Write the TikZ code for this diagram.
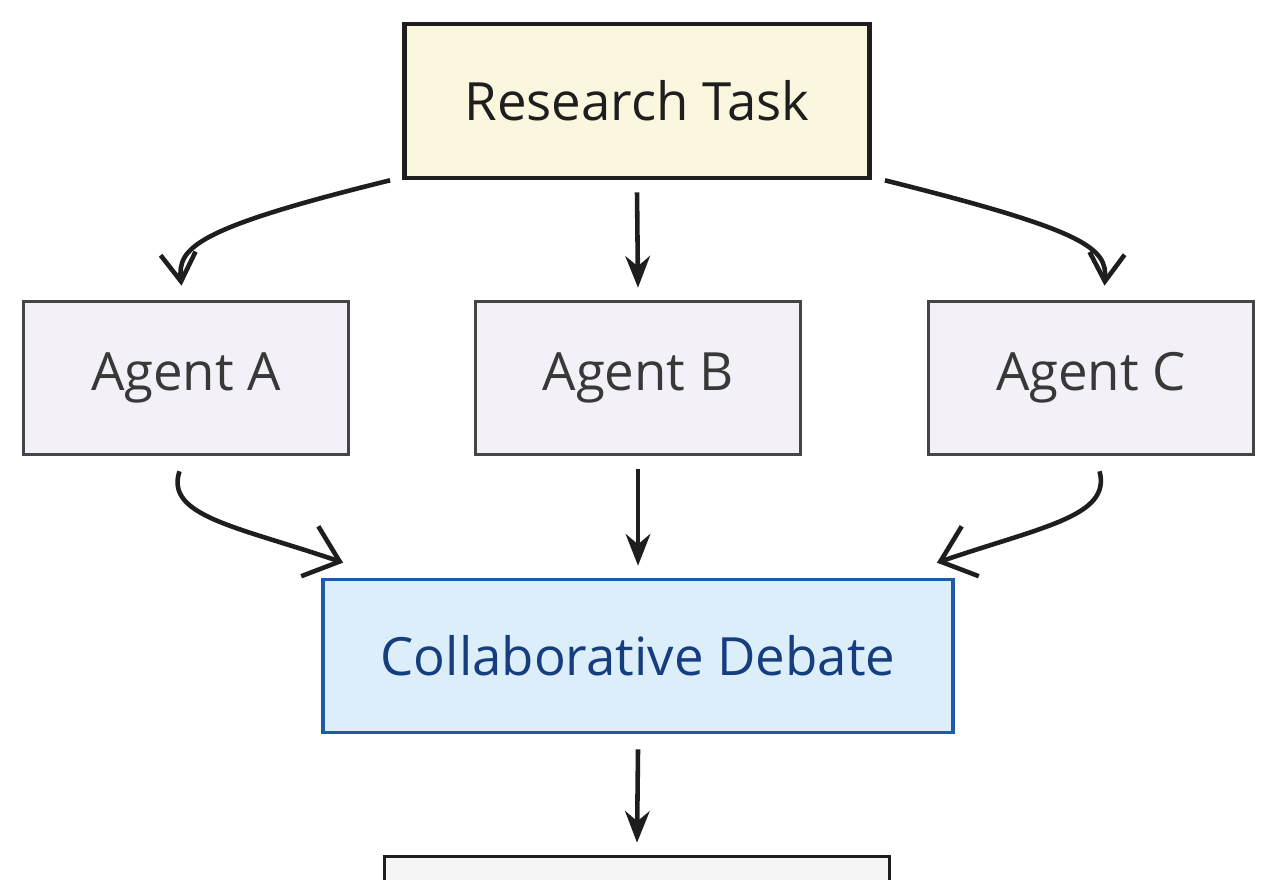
\documentclass[tikz,border=0pt]{standalone}
\usepackage{fontspec}
\setmainfont{Open Sans}
\usetikzlibrary{arrows.meta}
\definecolor{taskfill}{HTML}{FBF7DF}
\definecolor{agentfill}{HTML}{F3F1F7}
\definecolor{agentline}{HTML}{454545}
\definecolor{agenttext}{HTML}{383838}
\definecolor{debatefill}{HTML}{DDEEFB}
\definecolor{debateline}{HTML}{1F5AA6}
\definecolor{debatetext}{HTML}{163E7E}
\definecolor{resultfill}{HTML}{F5F5F5}
\definecolor{ink}{HTML}{1E1E1E}
\begin{document}
\begin{tikzpicture}[x=0.01cm,y=-0.01cm,font=\fontsize{15}{17}\selectfont,
  box/.style={draw=ink,line width=1pt,minimum height=1.53cm,inner sep=0pt,text=ink},
  agentbox/.style={box,draw=agentline,fill=agentfill,text=agenttext,minimum width=3.25cm},
  arr/.style={draw=ink,line width=1.3pt,-{Stealth[length=9pt,width=7pt]}},
  barb/.style={draw=ink,line width=1.3pt,-{Straight Barb[length=8pt,width=10pt]}},
  widebarb/.style={barb,-{Straight Barb[length=9pt,width=15pt]}}]
  \fill[white] (0,0) rectangle (1280,880);
  \clip (0,0) rectangle (1280,880);
  \node[box,fill=taskfill,line width=1.3pt,minimum width=4.65cm,minimum height=1.54cm] (task) at (637,101) {Research Task};
  \node[agentbox] (agentA) at (186,378) {Agent A};
  \node[agentbox] (agentB) at (638,378) {Agent B};
  \node[agentbox] (agentC) at (1091,378) {Agent C};
  \node[box,draw=debateline,fill=debatefill,text=debatetext,minimum width=6.3cm] (debate) at (638,656) {Collaborative Debate};
  \node[box,fill=resultfill,minimum width=5.05cm] (result) at (637,933) {};
  % task to agents
  \draw[barb] ([xshift=-0.12cm]task.south west) .. controls +(-195,48) and +(-4,-38) .. ([xshift=-0.045cm,yshift=0.14cm]agentA.north);
  \draw[arr] ([yshift=-0.12cm]task.south) -- ([yshift=0.12cm]agentB.north);
  \draw[barb] ([xshift=0.13cm]task.south east) .. controls +(200,50) and +(3,-38) .. ([xshift=0.135cm,yshift=0.14cm]agentC.north);
  % agents to debate
  \draw[widebarb] ([xshift=-0.065cm,yshift=-0.15cm]agentA.south) .. controls +(-15,45) and +(-105,-36) .. ([xshift=0.22cm,yshift=0.15cm]debate.north west);
  \draw[arr] ([yshift=-0.13cm]agentB.south) -- ([yshift=0.12cm]debate.north);
  \draw[widebarb] ([xshift=0.085cm,yshift=-0.15cm]agentC.south) .. controls +(12,45) and +(105,-36) .. ([xshift=-0.18cm,yshift=0.15cm]debate.north east);
  % debate to result
  \draw[arr] ([yshift=-0.15cm]debate.south) -- ([yshift=0.12cm]result.north);
\end{tikzpicture}
\end{document}
